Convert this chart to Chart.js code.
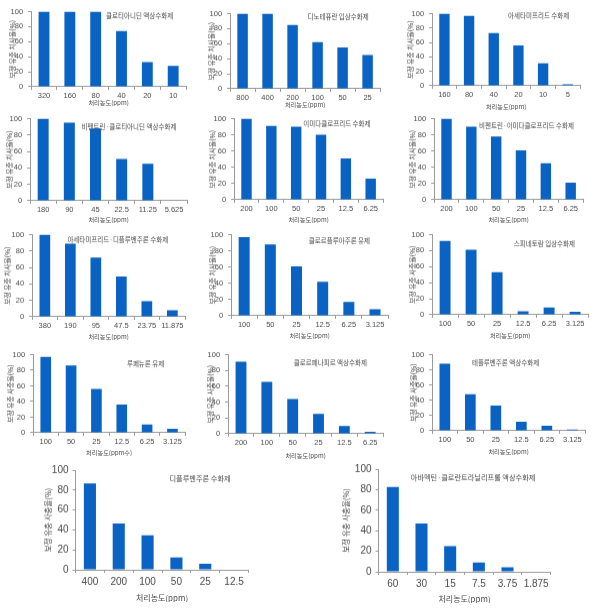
<!DOCTYPE html>
<html>
<head>
<meta charset="utf-8">
<script src="https://cdn.jsdelivr.net/npm/chart.js@4.4.1/dist/chart.umd.min.js"></script>
<style>
  body { margin: 0; background: #fff; width: 596px; height: 610px; position: relative; overflow: hidden; }
  .panel { position: absolute; }
</style>
</head>
<body>
<script>
// 약제별 처리농도와 보정 유충 치사율(%)
const panelNames = [
  '클로티아니딘 액상수화제', '디노테퓨란 입상수화제', '아세타미프리드 수화제',
  '비펜트린·클로티아니딘 액상수화제', '이미다클로프리드 수화제', '비펜트린·이미다클로프리드 수화제',
  '아세타미프리드·디플루벤주론 수화제', '클로르플루아주론 유제', '스피네토람 입상수화제',
  '루페뉴론 유제', '클로르페나피르 액상수화제', '테플루벤주론 액상수화제',
  '디플루벤주론 수화제', '아바멕틴·클로란트라닐리프롤 액상수화제'
];
const doseLabels = [
  ['320', '160', '80', '40', '20', '10'],
  ['800', '400', '200', '100', '50', '25'],
  ['160', '80', '40', '20', '10', '5'],
  ['180', '90', '45', '22.5', '11.25', '5.625'],
  ['200', '100', '50', '25', '12.5', '6.25'],
  ['200', '100', '50', '25', '12.5', '6.25'],
  ['380', '190', '95', '47.5', '23.75', '11.875'],
  ['100', '50', '25', '12.5', '6.25', '3.125'],
  ['100', '50', '25', '12.5', '6.25', '3.125'],
  ['100', '50', '25', '12.5', '6.25', '3.125'],
  ['200', '100', '50', '25', '12.5', '6.25'],
  ['100', '50', '25', '12.5', '6.25', '3.125'],
  ['400', '200', '100', '50', '25', '12.5'],
  ['60', '30', '15', '7.5', '3.75', '1.875']
];
const mortality = [
  [100, 100, 100, 74, 33, 28],
  [100, 100, 85, 62, 55, 45],
  [100, 97, 73, 56, 31, 2],
  [100, 95, 88, 51, 45, 0],
  [100, 91, 90, 80, 51, 26],
  [100, 90, 78, 61, 45, 21],
  [100, 89, 72, 49, 19, 8],
  [97, 88, 61, 42, 17, 8],
  [92, 81, 53, 4.5, 9, 3.7],
  [97, 86, 56, 36, 10.5, 5],
  [91, 65.5, 44, 25, 10, 2.4],
  [88, 48, 33, 12, 6.6, 1.6],
  [86.5, 46.5, 34.5, 12.5, 6, 0],
  [82.5, 47, 25, 9, 4.5, 0]
];
const xTitles = [
  '처리농도(ppm)', '처리농도(ppm)', '처리농도(ppm)', '처리농도(ppm)', '처리농도(ppm)', '처리농도(ppm)',
  '처리농도(ppm)', '처리농도(ppm)', '처리농도(ppm)', '처리농도(ppm수)', '처리농도(ppm)', '처리농도(ppm)',
  '처리농도(ppm)', '처리농도(ppm)'
];
const yTitles = [
  '보정 유충 치사율(%)', '보정 유충 치사율(%)', '보정 유충 치사율(%)', '보정 유충 치사율(%)',
  '보정 유충 치사율(%)', '보정 유충 치사율(%)', '보정 유충 치사율(%)', '보정 유충 치사율(%)',
  '보정 유충 사충율(%)', '보정 유충 사충율(%)', '보정 유충 사충율(%)', '보정 유충 사충율(%)',
  '보정 유충 사충율(%)', '보정 유충 사충율(%)'
];

// 패널 배치: 축 x, 100 위치, 0 위치, 오른쪽 끝, y제목 중심 x, x제목 중심 y, 큰 글씨 여부, 약제명 위치
const layoutBoxes = [
  { ax: 31,  top: 9,   bot: 86,  right: 186, yt: 12,  xt: 102, big: false, fx: 0.70, dy: 4 },
  { ax: 230, top: 11,  bot: 88,  right: 380, yt: 211, xt: 104, big: false, fx: 0.72, dy: 3 },
  { ax: 432, top: 11,  bot: 85,  right: 580, yt: 410, xt: 106, big: false, fx: 0.72, dy: 2 },
  { ax: 30,  top: 116, bot: 200, right: 187, yt: 9,   xt: 219, big: false, fx: 0.63, dy: 8 },
  { ax: 234, top: 116, bot: 199, right: 383, yt: 212, xt: 219, big: false, fx: 0.69, dy: 5 },
  { ax: 434, top: 116, bot: 199, right: 583, yt: 412, xt: 219, big: false, fx: 0.62, dy: 7 },
  { ax: 32,  top: 232, bot: 316, right: 185, yt: 7,   xt: 336, big: false, fx: 0.56, dy: 5 },
  { ax: 231, top: 232, bot: 315, right: 388, yt: 212, xt: 335, big: false, fx: 0.69, dy: 6 },
  { ax: 432, top: 232, bot: 314, right: 588, yt: 412, xt: 335, big: false, fx: 0.72, dy: 9 },
  { ax: 33,  top: 352, bot: 432, right: 185, yt: 10,  xt: 452, big: false, fx: 0.74, dy: 9 },
  { ax: 228, top: 352, bot: 433, right: 383, yt: 210, xt: 455, big: false, fx: 0.66, dy: 8 },
  { ax: 432, top: 352, bot: 430, right: 585, yt: 413, xt: 451, big: false, fx: 0.48, dy: 8 },
  { ax: 75,  top: 467, bot: 569, right: 248, yt: 48,  xt: 597, big: true,  fx: 0.72, dy: 8 },
  { ax: 378, top: 466, bot: 571, right: 550, yt: 346, xt: 598, big: true,  fx: 0.55, dy: 8 }
];

const textColor = '#4a4a4a';
const axisColor = '#9a9a9a';
const barColor = '#0a63c2';
const korFont = '"Noto Sans CJK KR", "Noto Sans", sans-serif';
const numFont = '"Liberation Sans", Arial, sans-serif';

// 그래프 안쪽 오른쪽 위 약제명
const nameLabel = {
  id: 'nameLabel',
  afterDraw(chart, args, opts) {
    const { ctx, chartArea: a } = chart;
    ctx.save();
    ctx.font = opts.size + 'px ' + korFont;
    ctx.fillStyle = textColor;
    ctx.textAlign = 'center';
    ctx.textBaseline = 'middle';
    ctx.fillText(opts.text, a.left + opts.fx * a.width, a.top + opts.dy);
    ctx.restore();
  }
};

layoutBoxes.forEach((b, i) => {
  const numSize = b.big ? 10 : 7.5;
  const xKorSize = b.big ? 8 : 6.2;
  const yKorSize = b.big ? 7.5 : 6.8;
  const padTop = 7;
  const left = b.yt - yKorSize * 1.2 / 2;
  const yw = b.ax - left;
  const cTop = b.top - padTop;
  const xh = b.xt + xKorSize * 1.2 / 2 - b.bot;
  const width = b.right - left + 4;
  const height = b.bot - cTop + xh;

  const div = document.createElement('div');
  div.className = 'panel';
  div.style.left = left + 'px';
  div.style.top = cTop + 'px';
  div.style.width = width + 'px';
  div.style.height = height + 'px';
  const canvas = document.createElement('canvas');
  div.appendChild(canvas);
  document.body.appendChild(div);

  new Chart(canvas, {
    type: 'bar',
    data: {
      labels: doseLabels[i],
      datasets: [{
        data: mortality[i],
        backgroundColor: barColor,
        borderWidth: 0,
        barPercentage: 0.42,
        categoryPercentage: 1
      }]
    },
    options: {
      responsive: true,
      maintainAspectRatio: false,
      animation: false,
      events: [],
      layout: { padding: { left: 0, top: padTop, right: 4, bottom: 0 } },
      plugins: {
        legend: { display: false },
        tooltip: { enabled: false },
        nameLabel: { text: panelNames[i], fx: b.fx, dy: b.dy, size: b.big ? 7.2 : 6.5 }
      },
      scales: {
        x: {
          grid: { display: true, drawOnChartArea: false, drawTicks: true, tickLength: 3, color: axisColor },
          border: { display: true, color: axisColor },
          ticks: {
            color: textColor, font: { family: numFont, size: numSize },
            padding: b.big ? 3 : 1, maxRotation: 0, autoSkip: false
          },
          title: {
            display: true, text: xTitles[i], color: textColor,
            font: { family: korFont, size: xKorSize }, padding: 0
          },
          afterFit: s => { s.height = xh; }
        },
        y: {
          min: 0, max: 100,
          grid: { display: true, drawOnChartArea: false, drawTicks: true, tickLength: 3, color: axisColor },
          border: { display: true, color: axisColor },
          ticks: {
            stepSize: 20, color: textColor, font: { family: numFont, size: numSize },
            padding: b.big ? 4 : 5
          },
          title: {
            display: true, text: yTitles[i], color: textColor,
            font: { family: korFont, size: yKorSize }, padding: 0
          },
          afterFit: s => { s.width = yw; }
        }
      }
    },
    plugins: [nameLabel]
  });
});
</script>
</body>
</html>
